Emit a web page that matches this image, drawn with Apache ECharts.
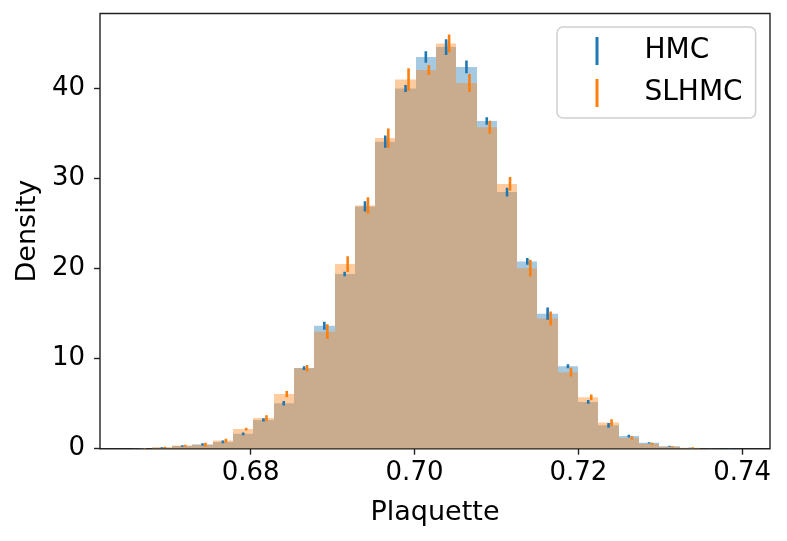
<!DOCTYPE html>
<html>
<head>
<meta charset="utf-8">
<script src="https://cdn.jsdelivr.net/npm/echarts@6/dist/echarts.min.js"></script>
<style>
  html, body { margin: 0; padding: 0; background: #ffffff; }
  #chart { width: 787px; height: 541px; }
</style>
</head>
<body>
<div id="chart"></div>
<script>
// ---- data ----
const binEdges = [0.66545, 0.66793, 0.67041, 0.67288, 0.67536, 0.67784, 0.68032, 0.68280,
  0.68527, 0.68775, 0.69023, 0.69271, 0.69519, 0.69767, 0.70014, 0.70262, 0.70510, 0.70758,
  0.71006, 0.71253, 0.71501, 0.71749, 0.71997, 0.72245, 0.72493, 0.72740, 0.72988, 0.73236,
  0.73484, 0.73732, 0.73980];
const hmcDensity = [0.02, 0.10, 0.30, 0.48, 0.75, 1.65, 3.20, 5.05, 8.95, 13.65, 19.40, 26.90,
  34.10, 40.00, 43.50, 44.60, 42.40, 36.40, 28.50, 20.80, 15.00, 9.15, 5.20, 2.60, 1.40, 0.65,
  0.27, 0.08, 0.03, 0.01];
const hmcErr = [0.02, 0.05, 0.08, 0.12, 0.15, 0.15, 0.18, 0.26, 0.20, 0.44, 0.26, 0.57, 0.68,
  0.40, 0.65, 0.87, 0.70, 0.42, 0.48, 0.37, 0.67, 0.22, 0.20, 0.26, 0.15, 0.08, 0.05, 0.02,
  0.01, 0.01];
const slhmcDensity = [0.02, 0.16, 0.35, 0.45, 0.90, 2.18, 3.41, 6.07, 8.93, 13.00, 20.50, 27.00,
  34.50, 41.00, 42.05, 45.00, 40.60, 35.70, 29.40, 20.05, 14.45, 8.50, 5.70, 2.90, 1.20, 0.55,
  0.22, 0.10, 0.02, 0.00];
const slhmcErr = [0.02, 0.07, 0.10, 0.20, 0.20, 0.15, 0.30, 0.35, 0.37, 0.83, 0.87, 0.92, 1.07,
  1.24, 0.55, 1.00, 1.00, 0.72, 0.76, 0.92, 0.78, 0.48, 0.33, 0.37, 0.17, 0.10, 0.05, 0.05,
  0.01, 0.00];
const seriesNames = ['HMC', 'SLHMC'];
const xTicks = [0.68, 0.70, 0.72, 0.74];
const yTicks = [0, 10, 20, 30, 40];
const xLabel = 'Plaquette';
const yLabel = 'Density';

// ---- styling ----
const BLUE = '#1f77b4';
const ORANGE = '#ff7f0e';
const FONT = 'DejaVu Sans';
const AXIS_COLOR = '#222222';

function histData(dens) {
  return dens.map((d, i) => [binEdges[i], binEdges[i + 1], d]);
}
function errData(dens, err) {
  return dens.map((d, i) => [(binEdges[i] + binEdges[i + 1]) / 2, d, err[i]]);
}
function histRender(color) {
  return function (params, api) {
    const p0 = api.coord([api.value(0), api.value(2)]);
    const p1 = api.coord([api.value(1), 0]);
    const x0 = Math.round(p0[0]), x1 = Math.round(p1[0]);
    return {
      type: 'rect',
      shape: { x: x0, y: p0[1], width: x1 - x0, height: p1[1] - p0[1] },
      style: { fill: color, opacity: 0.4 }
    };
  };
}
function errRender(color, dx) {
  return function (params, api) {
    const e = api.value(2);
    if (e <= 0) return null;
    const pTop = api.coord([api.value(0), api.value(1) + e]);
    const pBot = api.coord([api.value(0), api.value(1) - e]);
    const x = pTop[0] + dx;
    return {
      type: 'line',
      shape: { x1: x, y1: pTop[1], x2: x, y2: pBot[1] },
      style: { stroke: color, lineWidth: 2.6, lineCap: 'butt' }
    };
  };
}

const chart = echarts.init(document.getElementById('chart'), null, { renderer: 'canvas' });
chart.setOption({
  backgroundColor: '#ffffff',
  animation: false,
  grid: {
    left: 100, top: 13.5, width: 670, height: 435.2,
    show: true, borderColor: AXIS_COLOR, borderWidth: 1.4, backgroundColor: 'transparent'
  },
  legend: {
    orient: 'vertical',
    left: 557, top: 27,
    padding: [10, 13, 11, 38.5],
    itemGap: 14,
    itemWidth: 3, itemHeight: 28,
    icon: 'rect',
    backgroundColor: 'rgba(255,255,255,0.8)',
    borderColor: '#d0d0d0', borderWidth: 1.5, borderRadius: 6,
    textStyle: { fontFamily: FONT, fontSize: 28, color: '#000', padding: [0, 0, 0, 41] },
    data: [
      { name: seriesNames[0], itemStyle: { color: BLUE, opacity: 1 } },
      { name: seriesNames[1], itemStyle: { color: ORANGE, opacity: 1 } }
    ]
  },
  xAxis: {
    type: 'value',
    min: 0.6616, max: 0.7434,
    name: xLabel, nameLocation: 'middle', nameGap: 51,
    nameTextStyle: { fontFamily: FONT, fontSize: 27, color: '#000' },
    axisLine: { show: false },
    axisTick: { show: true, length: 6, lineStyle: { color: AXIS_COLOR, width: 1.4 }, customValues: xTicks },
    axisLabel: {
      fontFamily: FONT, fontSize: 26, color: '#000', margin: 12,
      customValues: xTicks,
      formatter: v => v.toFixed(2)
    },
    splitLine: { show: false }
  },
  yAxis: {
    type: 'value',
    min: 0, max: 48.33,
    name: yLabel, nameLocation: 'middle', nameGap: 58,
    nameTextStyle: { fontFamily: FONT, fontSize: 27, color: '#000' },
    axisLine: { show: false },
    axisTick: { show: true, length: 6, lineStyle: { color: AXIS_COLOR, width: 1.4 }, customValues: yTicks },
    axisLabel: {
      fontFamily: FONT, fontSize: 26, color: '#000', margin: 15,
      customValues: yTicks
    },
    splitLine: { show: false }
  },
  series: [
    { name: seriesNames[0], type: 'custom', renderItem: histRender(BLUE), data: histData(hmcDensity),
      clip: true, itemStyle: { color: BLUE }, z: 1 },
    { name: seriesNames[1], type: 'custom', renderItem: histRender(ORANGE), data: histData(slhmcDensity),
      clip: true, itemStyle: { color: ORANGE }, z: 2 },
    { name: seriesNames[0], type: 'custom', renderItem: errRender(BLUE, 0), data: errData(hmcDensity, hmcErr),
      clip: true, itemStyle: { color: BLUE }, z: 3 },
    { name: seriesNames[1], type: 'custom', renderItem: errRender(ORANGE, 3), data: errData(slhmcDensity, slhmcErr),
      clip: true, itemStyle: { color: ORANGE }, z: 4 }
  ]
});
</script>
</body>
</html>
